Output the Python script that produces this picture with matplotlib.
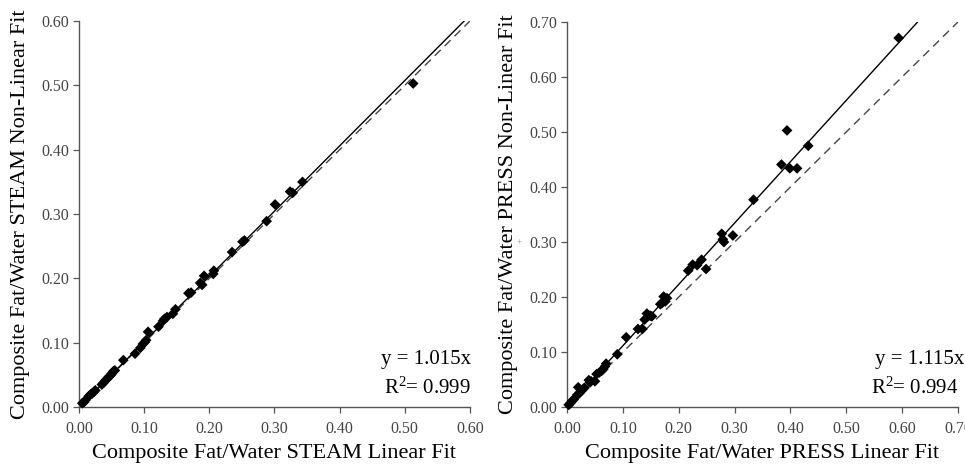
import numpy as np
import matplotlib.pyplot as plt

plt.rcParams['font.family'] = ['Liberation Serif', 'DejaVu Serif']
plt.rcParams['mathtext.fontset'] = 'custom'
plt.rcParams['mathtext.rm'] = 'Liberation Serif'
plt.rcParams['mathtext.it'] = 'Liberation Serif:italic'

# STEAM: linear fit vs non-linear fit
steam_x = [0.005, 0.008, 0.010, 0.015, 0.018, 0.020, 0.023, 0.025, 0.035, 0.038,
           0.040, 0.043, 0.045, 0.047, 0.049, 0.050, 0.052, 0.053, 0.055, 0.068,
           0.086, 0.094, 0.098, 0.101, 0.103, 0.106, 0.122, 0.129, 0.131, 0.135,
           0.144, 0.148, 0.168, 0.172, 0.186, 0.189, 0.192, 0.206, 0.207, 0.235,
           0.251, 0.254, 0.288, 0.301, 0.324, 0.328, 0.343, 0.513]
steam_y = [0.006, 0.008, 0.011, 0.017, 0.020, 0.021, 0.024, 0.026, 0.035, 0.038,
           0.041, 0.044, 0.046, 0.048, 0.050, 0.052, 0.054, 0.056, 0.057, 0.073,
           0.083, 0.092, 0.098, 0.101, 0.104, 0.117, 0.125, 0.134, 0.137, 0.140,
           0.145, 0.152, 0.177, 0.178, 0.193, 0.190, 0.204, 0.207, 0.212, 0.241,
           0.257, 0.259, 0.289, 0.315, 0.335, 0.333, 0.350, 0.503]
steam_slope = 1.015
steam_r2 = 0.999

# PRESS: linear fit vs non-linear fit
press_x = [0.003, 0.006, 0.009, 0.012, 0.018, 0.020, 0.022, 0.026, 0.029, 0.031,
           0.039, 0.041, 0.043, 0.050, 0.053, 0.058, 0.062, 0.065, 0.068, 0.070,
           0.090, 0.106, 0.127, 0.135, 0.139, 0.143, 0.149, 0.152, 0.167, 0.170,
           0.173, 0.176, 0.179, 0.217, 0.225, 0.233, 0.241, 0.249, 0.277, 0.279,
           0.281, 0.297, 0.334, 0.384, 0.394, 0.399, 0.412, 0.432, 0.594]
press_y = [0.004, 0.007, 0.011, 0.014, 0.022, 0.036, 0.025, 0.030, 0.033, 0.035,
           0.049, 0.045, 0.047, 0.047, 0.060, 0.063, 0.066, 0.069, 0.074, 0.079,
           0.096, 0.127, 0.142, 0.142, 0.159, 0.170, 0.166, 0.165, 0.187, 0.189,
           0.201, 0.192, 0.198, 0.248, 0.259, 0.258, 0.268, 0.251, 0.315, 0.305,
           0.300, 0.312, 0.377, 0.441, 0.503, 0.434, 0.434, 0.475, 0.671]
press_slope = 1.115
press_r2 = 0.994

panels = [
    (steam_x, steam_y, steam_slope, steam_r2, 0.60, 'STEAM', 1.003, 1.003),
    (press_x, press_y, press_slope, press_r2, 0.70, 'PRESS', 1.016, 1.001),
]

fig = plt.figure(figsize=(9.65, 4.69), dpi=100, facecolor='white')
positions = [[0.0819, 0.132, 0.405, 0.823], [0.5876, 0.132, 0.405, 0.821]]

for (x, y, slope, r2, lim, name, eq_x, r2_x), pos in zip(panels, positions):
    ax = fig.add_axes(pos)
    ax.set_xlim(0, lim)
    ax.set_ylim(0, lim)

    # identity line (dashed) and regression line (solid)
    ax.plot([0, lim], [0, lim], linestyle=(0, (6, 4)), color='#444444', linewidth=1.0)
    ax.plot([0, lim / slope], [0, lim], color='black', linewidth=1.0)

    ax.scatter(x, y, marker='D', s=30, color='black', edgecolors='none', zorder=3, clip_on=False)

    ticks = np.arange(0, lim + 0.001, 0.10)
    ax.set_xticks(ticks)
    ax.set_yticks(ticks)
    ax.set_xticklabels([f'{t:.2f}' for t in ticks])
    ax.set_yticklabels([f'{t:.2f}' for t in ticks])
    ax.tick_params(axis='both', direction='out', length=4, width=0.9, color='#555555',
                   labelsize=11.5, labelcolor='#444444')
    ax.tick_params(axis='x', pad=6)
    ax.tick_params(axis='y', pad=3)

    for side in ['top', 'right']:
        ax.spines[side].set_visible(False)
    for side in ['left', 'bottom']:
        ax.spines[side].set_color('#555555')
        ax.spines[side].set_linewidth(1.0)

    ax.set_xlabel(f'Composite Fat/Water {name} Linear Fit', fontsize=16, labelpad=5)
    ax.set_ylabel(f'Composite Fat/Water {name} Non-Linear Fit', fontsize=16)
    ax.yaxis.set_label_coords(-0.125, 0.5)

    ax.text(eq_x, 0.111, f'y = {slope:.3f}x', transform=ax.transAxes,
            ha='right', va='baseline', fontsize=15)
    ax.text(r2_x, 0.034, f'R$^2$= {r2:.3f}', transform=ax.transAxes,
            ha='right', va='baseline', fontsize=15)

# small stray mark next to the right y-axis label
fig.text(519 / 965, 1 - 243 / 469, '+', fontsize=7, color='#999999', ha='center', va='center')

fig.savefig('out.png', dpi=100, facecolor='white')
